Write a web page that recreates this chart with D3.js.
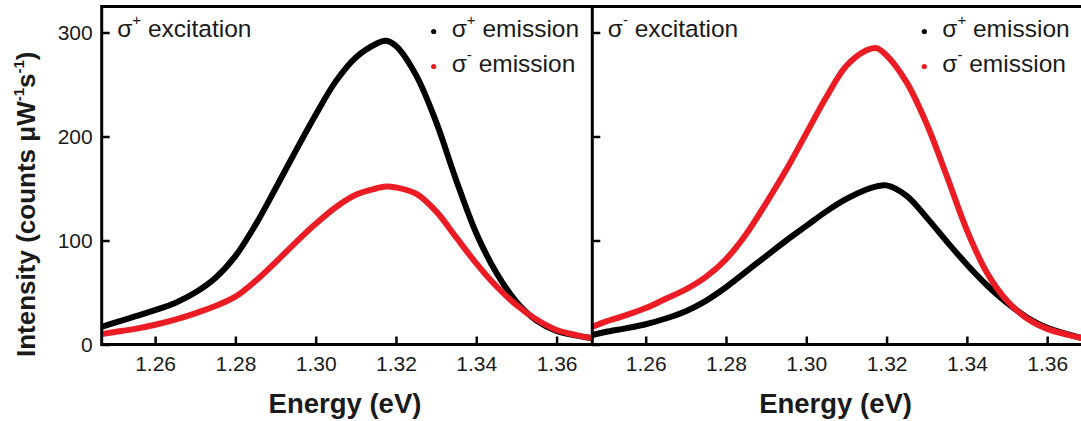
<!DOCTYPE html>
<html>
<head>
<meta charset="utf-8">
<script src="https://cdn.jsdelivr.net/npm/d3@7"></script>
<style>
  html, body { margin: 0; padding: 0; background: #fff; }
  svg { display: block; font-family: "Liberation Sans", Arial, sans-serif; }
</style>
</head>
<body>
<svg id="chart" width="1081" height="421"></svg>
<script>
// Photon energy grid (eV) shared by all four spectra
const energy = [1.2467, 1.25, 1.255, 1.26, 1.265, 1.27, 1.275, 1.28, 1.285, 1.29, 1.295,
  1.30, 1.305, 1.31, 1.315, 1.3175, 1.32, 1.325, 1.33, 1.335, 1.34, 1.345, 1.35,
  1.355, 1.36, 1.365, 1.3689];

// sigma+ excitation
const excPlusEmPlus = [17, 21, 27, 33, 40, 50, 64, 85, 115, 150, 186,
  221, 253, 276, 289, 292, 287, 259, 214, 158, 107, 69, 41,
  23, 13, 8.5, 6];
const excPlusEmMinus = [10, 12, 15, 19, 24, 30, 37, 46, 61, 79, 98,
  116, 132, 144, 150, 152, 151, 145, 128, 103, 78, 56, 38,
  24, 14, 9, 6];

// sigma- excitation
const excMinusEmPlus = [9, 12, 15.5, 19.5, 25, 32, 42, 55, 70, 85, 100,
  114, 128, 140, 149, 152, 153, 143, 122, 99, 77, 57, 40,
  26, 16, 10, 6];
const excMinusEmMinus = [17, 22, 28, 35, 44, 53, 65, 82, 106, 136, 168,
  203, 238, 268, 283, 285, 278, 252, 212, 162, 110, 69, 42,
  25, 15, 9.5, 6];

const energyTicks = [1.26, 1.28, 1.30, 1.32, 1.34, 1.36];
const intensityTicks = [0, 100, 200, 300];
const energyDomain = [1.2467, 1.3689];
const intensityDomain = [0, 325];

const BLACK = "#000000";
const RED = "#ec1c24";

const panels = [
  { x0: 101.7, exc: "+", showYLabels: true, series: [
    { values: excPlusEmPlus, color: BLACK },
    { values: excPlusEmMinus, color: RED }
  ]},
  { x0: 592.3, exc: "-", showYLabels: false, series: [
    { values: excMinusEmPlus, color: BLACK },
    { values: excMinusEmMinus, color: RED }
  ]}
];

const svg = d3.select("#chart");
svg.append("rect").attr("width", 1081).attr("height", 421).attr("fill", "#fff");

const panelW = 490.6, plotTop = 6.5, plotBottom = 344.5;

panels.forEach((p, i) => {
  const g = svg.append("g").attr("transform", `translate(${p.x0},0)`);
  const x = d3.scaleLinear().domain(energyDomain).range([0, panelW]);
  const y = d3.scaleLinear().domain(intensityDomain).range([plotBottom, plotTop]);

  const clipId = "clip" + i;
  g.append("clipPath").attr("id", clipId)
    .append("rect").attr("x", 0).attr("y", plotTop).attr("width", panelW).attr("height", plotBottom - plotTop);

  const line = d3.line()
    .x((d, j) => x(energy[j]))
    .y(d => y(d))
    .curve(d3.curveCatmullRom.alpha(0.5));

  const plot = g.append("g").attr("clip-path", `url(#${clipId})`);
  p.series.forEach(s => {
    plot.append("path")
      .datum(s.values)
      .attr("d", line)
      .attr("fill", "none")
      .attr("stroke", s.color)
      .attr("stroke-width", 6)
      .attr("stroke-linejoin", "round")
      .attr("stroke-linecap", "round");
  });

  // bottom axis, ticks pointing inward
  const xAxis = g.append("g").attr("transform", `translate(0,${plotBottom})`)
    .call(d3.axisBottom(x).tickValues(energyTicks).tickFormat(d3.format(".2f"))
      .tickSizeInner(-8).tickSizeOuter(0).tickPadding(12));
  xAxis.select(".domain").remove();
  xAxis.selectAll(".tick line").attr("stroke", "#000").attr("stroke-width", 2.5);
  xAxis.selectAll(".tick text").attr("font-size", 21).attr("fill", "#1a1a1a")
    .attr("font-family", "Liberation Sans, Arial, sans-serif");

  // left axis, ticks pointing inward
  const yAxis = g.append("g")
    .call(d3.axisLeft(y).tickValues(intensityTicks)
      .tickFormat(p.showYLabels ? d3.format("d") : () => "")
      .tickSizeInner(-8).tickSizeOuter(0).tickPadding(9));
  yAxis.select(".domain").remove();
  yAxis.selectAll(".tick line").attr("stroke", "#000").attr("stroke-width", 2.5);
  yAxis.selectAll(".tick text").attr("font-size", 21).attr("fill", "#1a1a1a")
    .attr("font-family", "Liberation Sans, Arial, sans-serif");

  // frame lines
  g.append("line").attr("x1", 0).attr("x2", 0).attr("y1", plotTop - 1.5).attr("y2", plotBottom + 1.5)
    .attr("stroke", "#000").attr("stroke-width", 3);
  g.append("line").attr("x1", 0).attr("x2", panelW).attr("y1", plotTop).attr("y2", plotTop)
    .attr("stroke", "#000").attr("stroke-width", 3);
  g.append("line").attr("x1", 0).attr("x2", panelW).attr("y1", plotBottom).attr("y2", plotBottom)
    .attr("stroke", "#000").attr("stroke-width", 3);

  // excitation label
  const exc = g.append("text").attr("x", 15.5).attr("y", 36.5)
    .attr("font-size", 24.5).attr("fill", "#1a1a1a");
  exc.append("tspan").text("σ");
  exc.append("tspan").attr("dy", -12).attr("font-size", 15).text(p.exc === "+" ? "+" : "-");
  exc.append("tspan").attr("dy", 12).text(" excitation");

  // legend
  const legendRows = [
    { sign: "+", color: BLACK, base: 37 },
    { sign: "-", color: RED, base: 72 }
  ];
  legendRows.forEach(r => {
    g.append("circle").attr("cx", 332).attr("cy", r.base - 5.5).attr("r", 2.6).attr("fill", r.color);
    const t = g.append("text").attr("x", 350).attr("y", r.base)
      .attr("font-size", 24.5).attr("fill", "#1a1a1a");
    t.append("tspan").text("σ");
    t.append("tspan").attr("dy", -12).attr("font-size", 15).text(r.sign);
    t.append("tspan").attr("dy", 12).text(" emission");
  });

  // axis title
  g.append("text").attr("x", panelW / 2 - 2).attr("y", 413)
    .attr("text-anchor", "middle").attr("font-size", 27.5).attr("font-weight", "bold")
    .attr("fill", "#1a1a1a").text("Energy (eV)");
});

// y axis title
const yt = svg.append("text")
  .attr("transform", "translate(35,357) rotate(-90)")
  .attr("font-size", 26).attr("font-weight", "bold").attr("fill", "#1a1a1a");
yt.append("tspan").text("Intensity (counts μW");
yt.append("tspan").attr("dy", -11).attr("font-size", 15).text("-1");
yt.append("tspan").attr("dy", 11).text("s");
yt.append("tspan").attr("dy", -11).attr("font-size", 15).text("-1");
yt.append("tspan").attr("dy", 11).text(")");
</script>
</body>
</html>
